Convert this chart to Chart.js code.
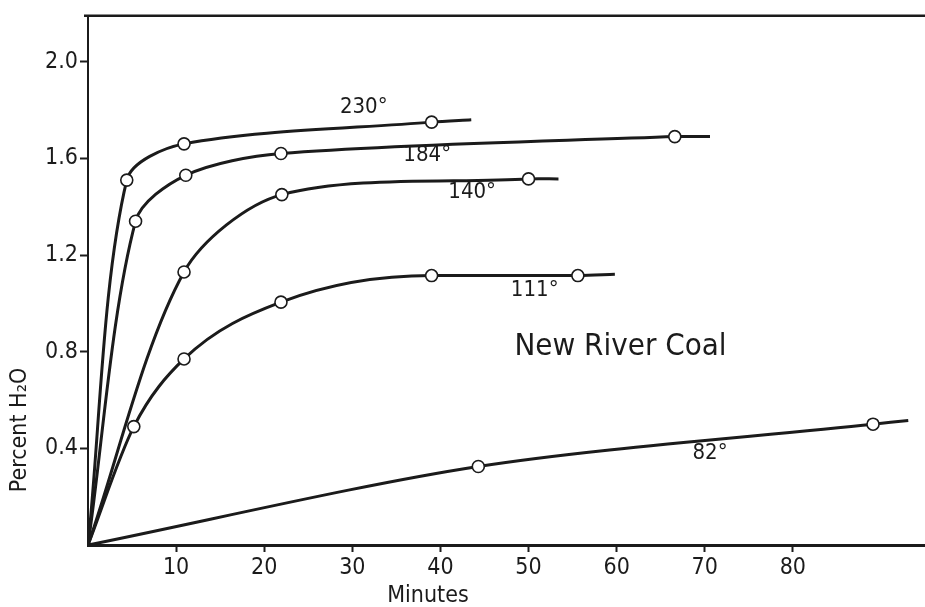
<!DOCTYPE html>
<html>
<head>
<meta charset="utf-8">
<script src="https://cdn.jsdelivr.net/npm/chart.js@4"></script>
<style>
  html, body { margin: 0; padding: 0; background: #fff; }
  #wrap { width: 925px; height: 607px; }
</style>
</head>
<body>
<div id="wrap"><canvas id="coalChart"></canvas></div>
<script>
// minutes / percent H2O (first = origin, last = end of drawn line, no marker)
const minutes230 = [0, 4.4, 10.9, 39.0, 43.5];
const water230 = [0, 1.51, 1.66, 1.75, 1.76];
const minutes184 = [0, 5.4, 11.1, 21.9, 66.6, 70.6];
const water184 = [0, 1.34, 1.53, 1.62, 1.69, 1.69];
const minutes140 = [0, 10.9, 22.0, 50.0, 53.4];
const water140 = [0, 1.13, 1.45, 1.515, 1.515];
const minutes111 = [0, 5.2, 10.9, 21.9, 39.0, 55.6, 59.8];
const water111 = [0, 0.49, 0.77, 1.005, 1.115, 1.115, 1.12];
const minutes82 = [0, 44.3, 89.1, 93.1];
const water82 = [0, 0.325, 0.50, 0.515];

const xTickValues = [10, 20, 30, 40, 50, 60, 70, 80];
const yTickValues = [0.4, 0.8, 1.2, 1.6, 2.0];

const FONT = "'Liberation Sans Narrow', 'DejaVu Sans Condensed', 'Open Sans', sans-serif";
const INK = '#1b1b1b';

function series(xs, ys) {
    return xs.map((x, i) => ({ x: x, y: ys[i] }));
}

function curve(xs, ys, monotone) {
    const last = xs.length - 1;
    return {
        data: series(xs, ys),
        borderColor: INK,
        borderWidth: 3,
        tension: 0.3,
        cubicInterpolationMode: monotone ? 'monotone' : 'default',
        pointRadius: ctx => (ctx.dataIndex === 0 || ctx.dataIndex === last) ? 0 : 6,
        pointBackgroundColor: '#fff',
        pointBorderColor: INK,
        pointBorderWidth: 1.6,
        fill: false
    };
}

// frame top line, axis titles and curve labels
const annotations = {
    id: 'annotations',
    afterDraw(chart) {
        const { ctx, chartArea: a, scales } = chart;
        const xs = scales.x, ys = scales.y;
        ctx.save();
        ctx.strokeStyle = INK;
        ctx.lineWidth = 2.5;
        ctx.beginPath();
        ctx.moveTo(a.left - 4, a.top);
        ctx.lineTo(a.right, a.top);
        ctx.stroke();

        ctx.fillStyle = INK;
        ctx.textBaseline = 'middle';
        ctx.textAlign = 'center';
        ctx.font = '22px ' + FONT;
        [['230°', 31.3, 1.81], ['184°', 38.5, 1.614], ['140°', 43.6, 1.458],
         ['111°', 50.7, 1.055], ['82°', 70.6, 0.378]].forEach(l => {
            ctx.fillText(l[0], xs.getPixelForValue(l[1]), ys.getPixelForValue(l[2]));
        });

        ctx.textAlign = 'left';
        ctx.font = '31px ' + FONT;
        ctx.fillText('New River Coal', xs.getPixelForValue(48.4), ys.getPixelForValue(0.82));

        ctx.textAlign = 'center';
        ctx.font = '23px ' + FONT;
        ctx.fillText('Minutes', 428, 596);

        ctx.translate(20, 430);
        ctx.rotate(-Math.PI / 2);
        ctx.fillText('Percent H₂O', 0, 0);
        ctx.restore();
    }
};

new Chart(document.getElementById('coalChart'), {
    type: 'line',
    data: {
        datasets: [
            curve(minutes230, water230),
            curve(minutes184, water184),
            curve(minutes140, water140),
            curve(minutes111, water111, true),
            curve(minutes82, water82)
        ]
    },
    options: {
        responsive: true,
        maintainAspectRatio: false,
        animation: false,
        layout: { padding: { top: 12, right: 0, bottom: 0, left: 0 } },
        plugins: { legend: { display: false }, tooltip: { enabled: false } },
        scales: {
            x: {
                type: 'linear',
                min: 0,
                max: 95,
                afterFit: s => { s.height = 62; },
                afterBuildTicks: s => { s.ticks = xTickValues.map(v => ({ value: v })); },
                ticks: { color: INK, font: { family: FONT, size: 23 }, padding: 2, maxRotation: 0 },
                grid: { drawOnChartArea: false, drawTicks: true, tickLength: 7, tickWidth: 2, tickColor: INK },
                border: { display: true, color: INK, width: 3 }
            },
            y: {
                min: 0,
                max: 2.19,
                afterFit: s => { s.width = 88; },
                afterBuildTicks: s => { s.ticks = yTickValues.map(v => ({ value: v })); },
                ticks: { color: INK, font: { family: FONT, size: 23 }, padding: 2, callback: v => v.toFixed(1) },
                grid: { drawOnChartArea: false, drawTicks: true, tickLength: 8, tickWidth: 2, tickColor: INK },
                border: { display: true, color: INK, width: 2 }
            }
        }
    },
    plugins: [annotations]
});
</script>
</body>
</html>
